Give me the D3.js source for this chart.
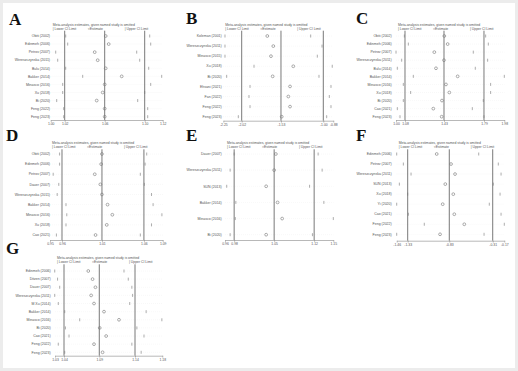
<!DOCTYPE html>
<meta charset="utf-8">
<style>
body { margin: 0; background: #fff; }
svg { display: block; }
.study { font: 3.5px "Liberation Sans", Arial, sans-serif; fill: #555; text-anchor: end; }
.head { font: 3.4px "Liberation Sans", Arial, sans-serif; fill: #555; }
.letter { font: bold 17px "Liberation Serif", "Times New Roman", serif; fill: #111; }
.ref { stroke: #555; stroke-width: 0.8px; }
.ci { stroke: #777; stroke-width: 0.6px; }
.est { fill: none; stroke: #777; stroke-width: 0.6px; }
.row { stroke: #e8e8e8; stroke-width: 0.5px; stroke-dasharray: 0.6 1.4; }
.axis path, .axis line { stroke: #888; stroke-width: 0.6px; }
.axis text { font: 3.4px "Liberation Sans", Arial, sans-serif; fill: #555; }
</style>
<svg width="518" height="371"></svg>
<script src="https://cdn.jsdelivr.net/npm/d3@7"></script>
<script>

// ---- data ----
const studiesA = ['Obiti (2002)', 'Edinmeh (2006)', 'Petrov (2007)', 'Wereszczynska (2011)', 'Bulu (2014)', 'Bakker (2014)', 'Minasco (2016)', 'Xu (2018)', 'Bi (2020)', 'Feng (2022)', 'Feng (2023)'];
const lowerA = [1.019, 1.021, 1.009, 1.011, 1.019, 1.036, 1.016, 1.016, 1.010, 1.017, 1.017];
const estA   = [1.059, 1.062, 1.048, 1.051, 1.059, 1.075, 1.058, 1.056, 1.050, 1.058, 1.058];
const upperA = [1.103, 1.104, 1.090, 1.093, 1.102, 1.115, 1.104, 1.098, 1.091, 1.101, 1.101];
const ticksA = [1.004, 1.018, 1.058, 1.098, 1.116];
const tickLabelsA = ['1.00', '1.02', '1.06', '1.10', '1.12'];

const studiesB = ['Koleman (2001)', 'Wereszczynska (2011)', 'Minasco (2015)', 'Xu (2018)', 'Bi (2020)', 'Ehsani (2021)', 'Fan (2022)', 'Feng (2022)', 'Feng (2023)'];
const lowerB = [-2.229, -2.229, -2.229, -1.866, -2.208, -1.916, -1.929, -1.916, -2.062];
const estB   = [-1.700, -1.625, -1.654, -1.375, -1.633, -1.416, -1.437, -1.416, -1.520];
const upperB = [-1.158, -1.016, -1.075, -0.888, -1.054, -0.904, -0.925, -0.904, -0.958];
const ticksB = [-2.250, -2.020, -1.529, -1.000, -0.875];
const tickLabelsB = ['-2.25', '-2.02', '-1.53', '-1.00', '-0.88'];

const studiesC = ['Obiti (2002)', 'Edinmeh (2006)', 'Petrov (2007)', 'Wereszczynska (2011)', 'Bulu (2014)', 'Bakker (2014)', 'Minasco (2016)', 'Xu (2018)', 'Bi (2020)', 'Cao (2021)', 'Feng (2023)'];
const lowerC = [1.075, 1.111, 1.000, 1.051, 1.012, 1.156, 1.066, 1.132, 1.066, 1.012, 1.036];
const estC   = [1.435, 1.465, 1.345, 1.432, 1.360, 1.555, 1.450, 1.480, 1.414, 1.336, 1.411];
const upperC = [1.807, 1.831, 1.696, 1.825, 1.714, 1.975, 1.852, 1.852, 1.786, 1.687, 1.792];
const ticksC = [1.000, 1.081, 1.432, 1.792, 1.975];
const tickLabelsC = ['1.00', '1.08', '1.43', '1.79', '1.98'];

const studiesD = ['Obiti (2002)', 'Edinmeh (2006)', 'Petrov (2007)', 'Dauer (2007)', 'Wereszczynska (2011)', 'Bakker (2014)', 'Minasco (2016)', 'Xu (2018)', 'Cao (2021)'];
const lowerD = [0.957, 0.957, 0.949, 0.956, 0.954, 0.965, 0.966, 0.965, 0.953];
const estD   = [1.010, 1.009, 1.001, 1.008, 1.010, 1.017, 1.023, 1.016, 1.002];
const upperD = [1.066, 1.064, 1.058, 1.063, 1.072, 1.074, 1.085, 1.072, 1.058];
const ticksD = [0.945, 0.960, 1.010, 1.0625, 1.086];
const tickLabelsD = ['0.95', '0.96', '1.01', '1.06', '1.09'];

const studiesE = ['Dauer (2007)', 'Wereszczynska (2011)', 'SUN (2013)', 'Bakker (2014)', 'Minasco (2016)', 'Bi (2020)'];
const lowerE = [0.980, 0.973, 0.967, 0.983, 0.982, 0.973];
const estE   = [1.053, 1.050, 1.036, 1.056, 1.064, 1.036];
const upperE = [1.127, 1.134, 1.112, 1.137, 1.1535, 1.117];
const ticksE = [0.964, 0.980, 1.050, 1.120, 1.1535];
const tickLabelsE = ['0.96', '0.98', '1.05', '1.12', '1.15'];

const studiesF = ['Edinmeh (2006)', 'Petrov (2007)', 'Wereszczynska (2011)', 'SUN (2013)', 'Xu (2018)', 'Yi (2020)', 'Cao (2021)', 'Feng (2022)', 'Feng (2023)'];
const lowerF = [-1.461, -1.381, -1.289, -1.429, -1.329, -1.461, -1.321, -1.130, -1.461];
const estF   = [-0.981, -0.809, -0.761, -0.878, -0.782, -0.909, -0.770, -0.650, -0.941];
const upperF = [-0.477, -0.242, -0.209, -0.302, -0.221, -0.350, -0.209, -0.170, -0.413];
const ticksF = [-1.461, -1.329, -0.830, -0.309, -0.170];
const tickLabelsF = ['-1.46', '-1.33', '-0.83', '-0.31', '-0.17'];

const studiesG = ['Edinmeh (2006)', 'Ditzen (2007)', 'Dauer (2007)', 'Wereszczynska (2011)', 'M Xu (2014)', 'Bakker (2014)', 'Minasco (2016)', 'Bi (2020)', 'Cao (2021)', 'Feng (2022)', 'Feng (2023)'];
const lowerG = [1.027, 1.031, 1.034, 1.027, 1.032, 1.041, 1.062, 1.042, 1.047, 1.032, 1.041];
const estG   = [1.074, 1.080, 1.084, 1.078, 1.082, 1.096, 1.117, 1.090, 1.099, 1.082, 1.094];
const upperG = [1.124, 1.130, 1.135, 1.136, 1.132, 1.155, 1.177, 1.142, 1.152, 1.135, 1.148];
const ticksG = [1.0274, 1.040, 1.0894, 1.1394, 1.1776];
const tickLabelsG = ['1.03', '1.04', '1.09', '1.14', '1.18'];

// ---- panel placement (pixels) ----
const panels = [
  { id: 'A', studies: studiesA, lower: lowerA, est: estA, upper: upperA, ticks: ticksA, labels: tickLabelsA,
    x0: 50.7, x1: 162.7, top: 30.7, axisY: 120, r0: 36, r1: 116.7, lx: 50, letter: [9, 24.5] },
  { id: 'B', studies: studiesB, lower: lowerB, est: estB, upper: upperB, ticks: ticksB, labels: tickLabelsB,
    x0: 223.3, x1: 333.3, top: 30.7, axisY: 120.7, r0: 36, r1: 116.7, lx: 221.7, letter: [186, 24] },
  { id: 'C', studies: studiesC, lower: lowerC, est: estC, upper: upperC, ticks: ticksC, labels: tickLabelsC,
    x0: 396, x1: 504.3, top: 30.7, axisY: 120, r0: 36, r1: 116.7, lx: 391.7, letter: [356, 23.5] },
  { id: 'D', studies: studiesD, lower: lowerD, est: estD, upper: upperD, ticks: ticksD, labels: tickLabelsD,
    x0: 50, x1: 162.7, top: 149.3, axisY: 240, r0: 154, r1: 235, lx: 50, letter: [6, 141] },
  { id: 'E', studies: studiesE, lower: lowerE, est: estE, upper: upperE, ticks: ticksE, labels: tickLabelsE,
    x0: 225, x1: 333.3, top: 149.3, axisY: 240, r0: 154, r1: 234.7, lx: 221.7, letter: [186, 141] },
  { id: 'F', studies: studiesF, lower: lowerF, est: estF, upper: upperF, ticks: ticksF, labels: tickLabelsF,
    x0: 396.7, x1: 504.3, top: 149.3, axisY: 240.7, r0: 154, r1: 234.3, lx: 391.7, letter: [356, 141] },
  { id: 'G', studies: studiesG, lower: lowerG, est: estG, upper: upperG, ticks: ticksG, labels: tickLabelsG,
    x0: 55, x1: 162.3, top: 264.3, axisY: 355.7, r0: 271, r1: 352.3, lx: 50.7, letter: [6, 254] }
];

const svg = d3.select('svg');

svg.append('rect')
  .attr('x', 1.5).attr('y', 1.5)
  .attr('width', 515).attr('height', 368)
  .attr('fill', 'none')
  .attr('stroke', '#ececec')
  .attr('stroke-width', 3);

panels.forEach(p => {
  const g = svg.append('g');
  const x = d3.scaleLinear()
    .domain([p.ticks[0], p.ticks[4]])
    .range([p.x0, p.x1]);
  const y = d3.scalePoint()
    .domain(p.studies)
    .range([p.r0, p.r1]);

  g.append('text')
    .attr('class', 'letter')
    .attr('x', p.letter[0]).attr('y', p.letter[1])
    .text(p.id);

  g.append('text')
    .attr('class', 'head')
    .attr('x', p.x0 + 2).attr('y', p.top - 5)
    .text('Meta-analysis estimates, given named study is omitted');

  const head = [['| Lower CI Limit', 0], ['○Estimate', 35], ['| Upper CI Limit', 72]];
  g.selectAll('.hd').data(head).enter().append('text')
    .attr('class', 'head')
    .attr('x', d => p.x0 + 2 + d[1])
    .attr('y', p.top - 1)
    .text(d => d[0]);

  // faint row guides
  g.selectAll('.row').data(p.studies).enter().append('line')
    .attr('class', 'row')
    .attr('x1', p.x0).attr('x2', p.x1)
    .attr('y1', d => y(d)).attr('y2', d => y(d));

  // overall lower / estimate / upper lines
  g.selectAll('.ref').data(p.ticks.slice(1, 4)).enter().append('line')
    .attr('class', 'ref')
    .attr('x1', d => x(d)).attr('x2', d => x(d))
    .attr('y1', p.top).attr('y2', p.axisY);

  g.selectAll('.study').data(p.studies).enter().append('text')
    .attr('class', 'study')
    .attr('x', p.lx)
    .attr('y', d => y(d))
    .attr('dy', '0.35em')
    .text(d => d);

  const rows = p.studies.map((s, i) => ({ s, lo: p.lower[i], e: p.est[i], hi: p.upper[i] }));

  g.selectAll('.lo').data(rows).enter().append('line')
    .attr('class', 'ci')
    .attr('x1', d => x(d.lo)).attr('x2', d => x(d.lo))
    .attr('y1', d => y(d.s) - 1.5).attr('y2', d => y(d.s) + 1.5);

  g.selectAll('.hi').data(rows).enter().append('line')
    .attr('class', 'ci')
    .attr('x1', d => x(d.hi)).attr('x2', d => x(d.hi))
    .attr('y1', d => y(d.s) - 1.5).attr('y2', d => y(d.s) + 1.5);

  g.selectAll('.est').data(rows).enter().append('circle')
    .attr('class', 'est')
    .attr('cx', d => x(d.e))
    .attr('cy', d => y(d.s))
    .attr('r', 1.4);

  g.append('g')
    .attr('class', 'axis')
    .attr('transform', `translate(0,${p.axisY})`)
    .call(d3.axisBottom(x)
      .tickValues(p.ticks)
      .tickFormat((d, i) => p.labels[i])
      .tickSize(1.8)
      .tickSizeOuter(0)
      .tickPadding(0.8));
});

</script>
